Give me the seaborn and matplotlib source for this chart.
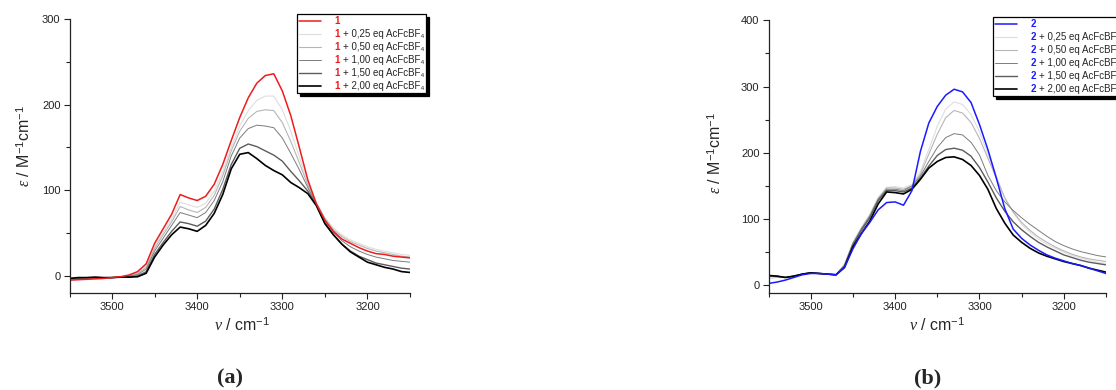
import matplotlib
matplotlib.use("Agg")
import matplotlib.pyplot as plt
import seaborn as sns
from matplotlib.ticker import MultipleLocator

# wavenumber grid (cm-1), read every 10 cm-1
wavenumber = [3550, 3540, 3530, 3520, 3510, 3500, 3490, 3480, 3470, 3460,
              3450, 3440, 3430, 3420, 3410, 3400, 3390, 3380, 3370, 3360,
              3350, 3340, 3330, 3320, 3310, 3300, 3290, 3280, 3270, 3260,
              3250, 3240, 3230, 3220, 3210, 3200, 3190, 3180, 3170, 3160, 3150]

equivalents = ["", "0,25", "0,50", "1,00", "1,50", "2,00"]

# (a) compound 1
eps1_000 = [-5, -4.5, -4, -3.5, -3, -2, -1, 1, 5, 14,
            38, 55, 72, 95, 91, 88, 93, 107, 130, 158,
            185, 208, 225, 234, 236, 216, 187, 150, 112, 84,
            65, 52, 43, 38, 33, 29, 26, 25, 23, 22, 21]
eps1_025 = [-4.5, -4, -3.5, -3, -2.8, -2, -1.2, 0.4, 3.6, 11.5,
            34, 51, 66, 86, 83, 80, 85, 99, 122, 150,
            175, 193, 205, 210, 210, 194, 169, 139, 108, 86,
            68, 56, 48, 42, 38, 34, 31, 29, 27, 25, 24]
eps1_050 = [-4, -3.5, -3.2, -2.7, -2.6, -2, -1.2, 0, 2.7, 9.8,
            32, 48, 63, 81, 77, 74, 80, 94, 117, 146,
            169, 184, 192, 194, 193, 179, 157, 132, 106, 85,
            67, 54, 46, 40, 36, 32, 29, 27, 25, 23, 22]
eps1_100 = [-3.8, -3.1, -2.9, -2.4, -2.4, -2, -1.3, -0.4, 1.6, 7.8,
            29, 44, 59, 74, 71, 68, 74, 88, 110, 140,
            161, 172, 176, 175, 173, 161, 143, 124, 103, 84,
            65, 51, 41, 34, 29, 25, 22, 20, 18, 17, 16]
eps1_150 = [-3.3, -2.4, -2.3, -1.8, -2.2, -2, -1.4, -1.1, 0, 4.8,
            25, 39, 52, 63, 61, 58, 64, 78, 101, 130,
            149, 154, 151, 146, 141, 134, 122, 111, 99, 83,
            62, 48, 37, 29, 23, 19, 15, 13, 11, 9, 8]
eps1_200 = [-3, -2, -2, -1.5, -2, -2, -1.5, -1.5, -1, 3,
            22, 36, 48, 57, 55, 52, 59, 73, 95, 125,
            142, 144, 137, 129, 123, 118, 109, 103, 96, 82,
            61, 48, 37, 28, 22, 16, 13, 10, 8, 5, 4]

# (b) compound 2
eps2_000 = [3, 5, 8, 12, 16, 18, 18, 17, 16, 27,
            55, 78, 95, 114, 125, 126, 121, 143, 202, 245,
            270, 287, 296, 292, 276, 243, 205, 162, 116, 85,
            71, 61, 53, 46, 41, 37, 33, 30, 26, 22, 18]
eps2_025 = [10, 12, 12, 14, 17, 19, 18, 17, 17, 32,
            65, 87, 107, 133, 148, 149, 147, 152, 172, 205,
            240, 266, 277, 273, 258, 232, 198, 165, 132, 110,
            92, 80, 70, 62, 56, 50, 45, 41, 38, 35, 33]
eps2_050 = [13, 13, 12, 14, 17, 19, 18, 17, 16, 31,
            64, 86, 106, 131, 147, 147, 145, 150, 168, 198,
            228, 253, 264, 260, 246, 222, 192, 162, 132, 111,
            95, 83, 73, 65, 58, 52, 47, 43, 40, 38, 36]
eps2_100 = [14, 13, 12, 14, 17, 19, 18, 17, 16, 30,
            63, 85, 104, 130, 145, 145, 143, 150, 165, 187,
            208, 223, 229, 227, 216, 197, 166, 143, 126, 113,
            102, 92, 83, 74, 66, 60, 55, 51, 48, 45, 43]
eps2_150 = [15, 14, 12, 14, 17, 19, 18, 17, 16, 29,
            61, 83, 102, 128, 143, 143, 141, 147, 162, 180,
            196, 205, 207, 204, 195, 178, 156, 132, 112, 96,
            84, 74, 65, 58, 52, 46, 42, 38, 35, 33, 31]
eps2_200 = [15, 14, 12, 14, 17, 19, 18, 17, 16, 27,
            58, 78, 97, 123, 141, 140, 138, 145, 160, 177,
            187, 193, 194, 190, 181, 166, 145, 116, 94, 76,
            65, 56, 49, 44, 40, 36, 33, 30, 26, 23, 20]

series_a = [eps1_000, eps1_025, eps1_050, eps1_100, eps1_150, eps1_200]
series_b = [eps2_000, eps2_025, eps2_050, eps2_100, eps2_150, eps2_200]

grays = ["#dedede", "#b6b6b6", "#7c7c7c", "#5c5c5c", "#000000"]
widths = [1.1, 0.8, 0.8, 0.7, 1.0, 1.2]

sns.set_theme(style="ticks")
plt.rcParams["font.family"] = ["Liberation Sans", "DejaVu Sans"]
plt.rcParams["mathtext.fontset"] = "custom"
plt.rcParams["mathtext.rm"] = "Liberation Sans"
plt.rcParams["mathtext.it"] = "Liberation Serif:italic"

fig = plt.figure(figsize=(11.16, 3.9), dpi=100)
ax_a = fig.add_axes([69.5 / 1116, 97 / 390, 340.5 / 1116, 274 / 390])
ax_b = fig.add_axes([768.5 / 1116, 97.3 / 390, 337.5 / 1116, 272.4 / 390])


def draw_panel(ax, series, main_color, number, ylim, ymajor, legend_xy):
    colors = [main_color] + grays
    handles = [None] * len(series)
    # grays first, coloured spectrum on top
    for i in list(range(1, len(series))) + [0]:
        sns.lineplot(x=wavenumber, y=series[i], ax=ax, color=colors[i],
                     linewidth=widths[i], sort=False, estimator=None, legend=False)
        handles[i] = ax.lines[-1]

    ax.set_xlim(3550, 3150)
    ax.set_ylim(*ylim)
    ax.xaxis.set_major_locator(MultipleLocator(100))
    ax.xaxis.set_minor_locator(MultipleLocator(50))
    ax.yaxis.set_major_locator(MultipleLocator(ymajor))
    ax.yaxis.set_minor_locator(MultipleLocator(ymajor / 2))
    ax.tick_params(which="major", direction="out", length=4, width=0.8,
                   labelsize=8, pad=2.5, colors="#222222")
    ax.tick_params(which="minor", direction="out", length=3, width=0.8, colors="#222222")
    sns.despine(ax=ax)
    for s in ["left", "bottom"]:
        ax.spines[s].set_linewidth(0.9)
        ax.spines[s].set_color("#222222")

    ax.set_xlabel(r"$\nu$ / cm$^{-1}$", fontsize=11.5)
    ax.set_ylabel(r"$\varepsilon$ / M$^{-1}$cm$^{-1}$", fontsize=11.5)

    labels = [" "] + ["+ " + e + " eq AcFcBF\u2084" for e in equivalents[1:]]
    leg = ax.legend(handles, labels, loc="upper left",
                    bbox_to_anchor=(legend_xy[0] / 1116, 1 - legend_xy[1] / 390),
                    bbox_transform=fig.transFigure, borderaxespad=0,
                    fontsize=7, handlelength=2.3, handletextpad=2.2,
                    labelspacing=0.31, borderpad=0.2, fancybox=False,
                    edgecolor="black", framealpha=1,
                    shadow={"color": "black", "alpha": 1, "ox": 2.5, "oy": -2.5})
    leg.get_frame().set_linewidth(0.9)
    leg.set_zorder(5)
    for t in leg.get_texts():
        ax.annotate(number, xy=(0, 0), xycoords=t, xytext=(-2, 0),
                    textcoords="offset points", ha="right", va="bottom",
                    color=main_color, fontsize=7, fontweight="bold", zorder=10)


draw_panel(ax_a, series_a, "#ee1c1c", "1", (-20, 300), 100, (297, 14))
draw_panel(ax_b, series_b, "#1a1aff", "2", (-11, 400), 100, (993, 17))

ax_a.yaxis.set_label_coords(-0.107, 0.536)
ax_b.yaxis.set_label_coords(-0.132, 0.513)
ax_a.xaxis.set_label_coords(0.506, -0.085)
ax_b.xaxis.set_label_coords(0.50, -0.085)

fig.text(230 / 1116, 12 / 390, "(a)", ha="center", va="center", fontsize=16,
         fontweight="bold", family="Liberation Serif")
fig.text(928 / 1116, 12 / 390, "(b)", ha="center", va="center", fontsize=16,
         fontweight="bold", family="Liberation Serif")

fig.savefig("out.png", dpi=100, facecolor="white")
